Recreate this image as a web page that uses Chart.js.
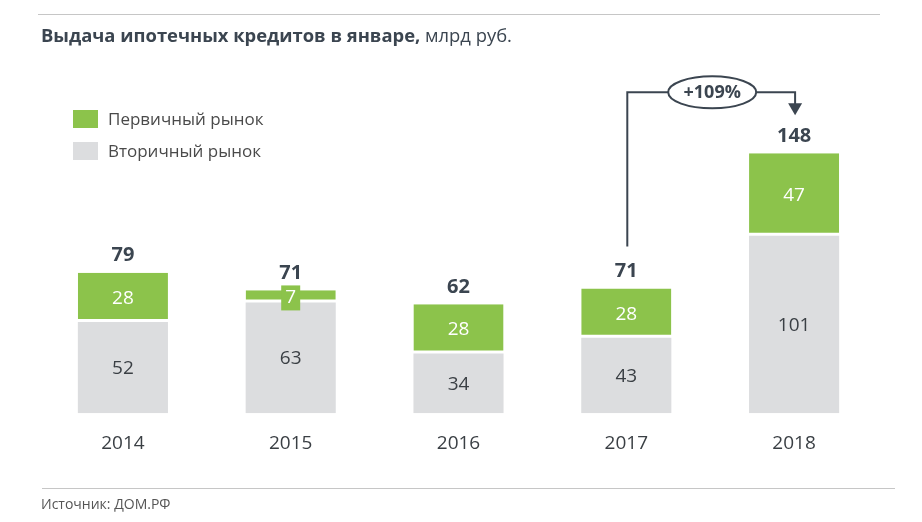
<!DOCTYPE html>
<html>
<head>
<meta charset="utf-8">
<script src="https://cdn.jsdelivr.net/npm/chart.js@4/dist/chart.umd.min.js"></script>
<style>
  html, body { margin:0; padding:0; background:#fff; overflow:hidden; }
  #wrap { position:relative; width:922px; height:522px; font-family:"Open Sans", sans-serif; }
  canvas { position:absolute; left:0; top:0; }
  .hline { position:absolute; height:1px; background:#c6c6c6; }
  #title { position:absolute; left:41px; top:22px; font-size:18.4px; color:#3b4550; white-space:nowrap; }
  #title b { font-weight:700; }
  #source { position:absolute; left:41px; top:494px; font-size:14px; color:#555; white-space:nowrap; }
  .leg { position:absolute; left:73px; font-size:17px; color:#4a4a4a; white-space:nowrap; }
  .leg span.sw { position:absolute; left:0; top:0; width:25px; height:18px; }
  .leg span.tx { position:absolute; left:35px; top:-3px; }
</style>
</head>
<body>
<div id="wrap">
  <canvas id="c" width="922" height="522"></canvas>
  <div class="hline" style="left:38px; width:842px; top:14px;"></div>
  <div class="hline" style="left:42px; width:853px; top:488px;"></div>
  <div id="title"><b>Выдача ипотечных кредитов в январе,</b> млрд руб.</div>
  <div class="leg" id="leg1" style="top:110px;"><span class="sw"></span><span class="tx"></span></div>
  <div class="leg" id="leg2" style="top:142px;"><span class="sw"></span><span class="tx"></span></div>
  <div id="source">Источник: ДОМ.РФ</div>
</div>
<script>
const categories = ['2014', '2015', '2016', '2017', '2018'];
const primaryMarket = [28, 7, 28, 28, 47];
const secondaryMarket = [52, 63, 34, 43, 101];
const totals = [79, 71, 62, 71, 148];
const seriesNames = ['Первичный рынок', 'Вторичный рынок'];
const growthLabel = '+109%';

const GREEN = '#8cc34b';
const GRAY = '#dcdddf';
const DARK = '#3b4550';
const FONT = '"Open Sans", sans-serif';

[[ 'leg1', GREEN, seriesNames[0] ], [ 'leg2', GRAY, seriesNames[1] ]].forEach(([id, col, name]) => {
  const el = document.getElementById(id);
  el.querySelector('.sw').style.background = col;
  el.querySelector('.tx').textContent = name;
});

const labelsPlugin = {
  id: 'labelsPlugin',
  afterDatasetsDraw(chart) {
    const ctx = chart.ctx;
    const metaSec = chart.getDatasetMeta(0);
    const metaPri = chart.getDatasetMeta(1);
    ctx.save();
    ctx.textAlign = 'center';
    ctx.textBaseline = 'middle';
    metaSec.data.forEach((bar, i) => {
      const cy = (bar.y + bar.base) / 2;
      ctx.font = '19px ' + FONT;
      ctx.fillStyle = '#3a3f44';
      ctx.fillText(String(secondaryMarket[i]), bar.x, cy + 1);
    });
    metaPri.data.forEach((bar, i) => {
      const cy = (bar.y + bar.base) / 2;
      if (Math.abs(bar.base - bar.y) < 24) {
        ctx.fillStyle = GREEN;
        ctx.fillRect(bar.x - 9.5, cy - 11, 19, 25);
      }
      ctx.font = '19px ' + FONT;
      ctx.fillStyle = '#ffffff';
      ctx.fillText(String(primaryMarket[i]), bar.x, cy + 1);
      ctx.font = 'bold 20px ' + FONT;
      ctx.fillStyle = DARK;
      ctx.fillText(String(totals[i]), bar.x, bar.y - 17);
    });
    const b17 = metaPri.data[3];
    const b18 = metaPri.data[4];
    const yH = b18.y - 61;
    const x1 = b17.x + 1;
    const x2 = b18.x + 1;
    ctx.strokeStyle = DARK;
    ctx.lineWidth = 2;
    ctx.beginPath();
    ctx.moveTo(x1, b17.y - 42);
    ctx.lineTo(x1, yH);
    ctx.lineTo(x2, yH);
    ctx.lineTo(x2, b18.y - 48);
    ctx.stroke();
    ctx.fillStyle = DARK;
    ctx.beginPath();
    ctx.moveTo(x2 - 7, b18.y - 50);
    ctx.lineTo(x2 + 7, b18.y - 50);
    ctx.lineTo(x2, b18.y - 38);
    ctx.closePath();
    ctx.fill();
    const ex = (x1 + x2) / 2 + 1;
    ctx.beginPath();
    ctx.ellipse(ex, yH, 44, 16, 0, 0, Math.PI * 2);
    ctx.fillStyle = '#ffffff';
    ctx.fill();
    ctx.stroke();
    ctx.font = 'bold 18px ' + FONT;
    ctx.fillStyle = DARK;
    ctx.fillText(growthLabel, ex, yH + 1);
    ctx.restore();
  }
};

new Chart(document.getElementById('c'), {
  type: 'bar',
  data: {
    labels: categories,
    datasets: [
      {
        label: seriesNames[1],
        data: secondaryMarket,
        backgroundColor: GRAY,
        borderWidth: 0,
        barPercentage: 0.537,
        categoryPercentage: 1
      },
      {
        label: seriesNames[0],
        data: primaryMarket,
        backgroundColor: GREEN,
        borderColor: '#ffffff',
        borderWidth: { top: 0, left: 0, right: 0, bottom: 3 },
        borderSkipped: false,
        barPercentage: 0.537,
        categoryPercentage: 1
      }
    ]
  },
  options: {
    responsive: false,
    devicePixelRatio: 1,
    animation: false,
    layout: { padding: { left: 39, right: 44, top: 62, bottom: 48 } },
    plugins: { legend: { display: false }, tooltip: { enabled: false } },
    scales: {
      x: {
        stacked: true,
        grid: { display: false, drawTicks: false },
        border: { display: false },
        ticks: { font: { family: FONT, size: 19 }, color: '#3a3f44', padding: 19 }
      },
      y: {
        stacked: true,
        display: false,
        min: 0,
        max: 200
      }
    }
  },
  plugins: [labelsPlugin]
});
</script>
</body>
</html>
